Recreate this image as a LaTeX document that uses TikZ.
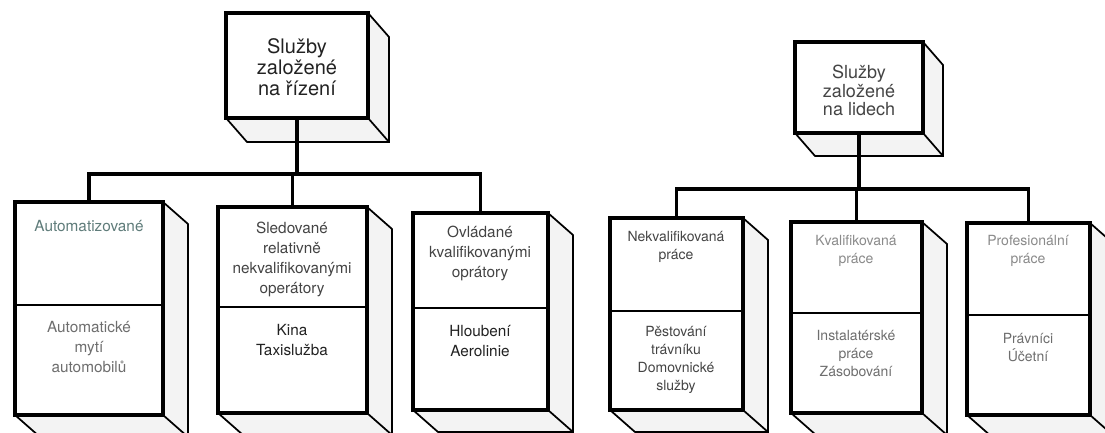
\documentclass[tikz,border=0pt]{standalone}
\usepackage{fontspec}
\setmainfont{TeX Gyre Heros}
\definecolor{inkA}{HTML}{222222}
\definecolor{inkB}{HTML}{444444}
\definecolor{inkC}{HTML}{6E6E6E}
\definecolor{inkD}{HTML}{8A8A8A}
\definecolor{inkT}{HTML}{5F7C7A}
\definecolor{sidegray}{HTML}{F3F3F3}
\tikzset{
  front/.style={draw=black, line width=3pt, fill=white, inner sep=0pt, outer sep=0pt, rectangle},
  edge/.style={draw=black, line width=1.3pt, line join=miter},
  divline/.style={draw=black, line width=1.6pt},
  conn/.style={draw=black, line width=2.6pt, line join=miter},
  bigtxt/.style={inner sep=0pt, align=center, anchor=north, font=\fontsize{15}{15.8}\selectfont},
  midtxt/.style={inner sep=0pt, align=center, anchor=north, font=\fontsize{13.5}{13.8}\selectfont},
  ltxt/.style={inner sep=0pt, align=center, anchor=north, font=\fontsize{11.5}{15}\selectfont},
  rtxt/.style={inner sep=0pt, align=center, anchor=north, font=\fontsize{10.5}{13.6}\selectfont},
}
% #1 name, #2 xl, #3 yt, #4 xr, #5 yb, #6 dx, #7 dy
\newcommand\threedbox[7]{%
  \fill[sidegray] (#4,#3) -- ++(#6,#7) -- (#4+#6,#5+#7) -- (#2+#6,#5+#7) -- (#2,#5) -- (#4,#5) -- cycle;
  \draw[edge] (#4,#3) -- ++(#6,#7) -- (#4+#6,#5+#7) -- (#2+#6,#5+#7) -- (#2,#5);
  \draw[edge] (#4,#5) -- ++(#6,#7);
  \node[front, minimum width={(#4-#2)*0.75pt}, minimum height={(#5-#3)*0.75pt}] (#1) at ({(#2+#4)/2},{(#3+#5)/2}) {};
}
\begin{document}
\begin{tikzpicture}[x=0.75pt,y=-0.75pt]
\useasboundingbox (0,0) rectangle (1105,432);
\clip (0,0) rectangle (1105,432);
\fill[white] (0,0) rectangle (1105,432);

% ---------- left tree ----------
\threedbox{topL}{226}{13}{368}{118}{21}{24}
\threedbox{b1}{15}{202}{163}{415}{25}{22}
\threedbox{b2}{218}{207}{367}{413}{25}{22}
\threedbox{b3}{413}{213}{548}{410}{25}{22}
\draw[divline] (15,305) -- (163,305);
\draw[divline] (218,307) -- (367,307);
\draw[divline] (413,308) -- (548,308);

\coordinate (barL) at (297,174);
\draw[conn] (topL.south) -- (topL.south |- barL);
\draw[conn] (b1.north) -- (b1.north |- barL) -- (b3.north |- barL) -- (b3.north);
\draw[conn] (b2.north) -- (b2.north |- barL);

\node[bigtxt, text=inkA] (topLt) at (297,38) {Služby\\založené\\na řízení};

\node[ltxt, text=inkT] (b1a) at (89,220) {Automatizované};
\node[ltxt, text=inkC] (b1b) at (89,321) {Automatické\\mytí\\automobilů};
\node[ltxt, text=inkB] (b2a) at (292,222) {Sledované\\relativně\\nekvalifikovanými\\operátory};
\node[ltxt, text=inkA] (b2b) at (292,324) {Kina\\Taxislužba};
\node[ltxt, text=inkB] (b3a) at (480,226) {Ovládané\\kvalifikovanými\\oprátory};
\node[ltxt, text=inkA] (b3b) at (480,325) {Hloubení\\Aerolinie};

% ---------- right tree ----------
\threedbox{topR}{795}{42}{923}{133}{20}{23}
\threedbox{b4}{610}{218}{743}{410}{25}{22}
\threedbox{b5}{791}{222}{922}{413}{25}{22}
\threedbox{b6}{967}{223}{1090}{415}{25}{22}
\draw[divline] (610,311) -- (743,311);
\draw[divline] (791,313) -- (922,313);
\draw[divline] (967,315) -- (1090,315);

\coordinate (barR) at (859,189);
\draw[conn] (topR.south) -- (topR.south |- barR);
\draw[conn] (b4.north) -- (b4.north |- barR) -- (b6.north |- barR) -- (b6.north);
\draw[conn] (b5.north) -- (b5.north |- barR);

\node[midtxt, text=inkB] (topRt) at (859,65) {Služby\\založené\\na lidech};

\node[rtxt, text=inkB] (b4a) at (676,231) {Nekvalifikovaná\\práce};
\node[rtxt, text=inkB] (b4b) at (676,326) {Pěstování\\trávníku\\Domovnické\\služby};
\node[rtxt, text=inkD] (b5a) at (856,235) {Kvalifikovaná\\práce};
\node[rtxt, text=inkC] (b5b) at (856,330) {Instalatérské\\práce\\Zásobování};
\node[rtxt, text=inkD] (b6a) at (1028,235) {Profesionální\\práce};
\node[rtxt, text=inkC] (b6b) at (1028,333) {Právníci\\Účetní};
\end{tikzpicture}
\end{document}
